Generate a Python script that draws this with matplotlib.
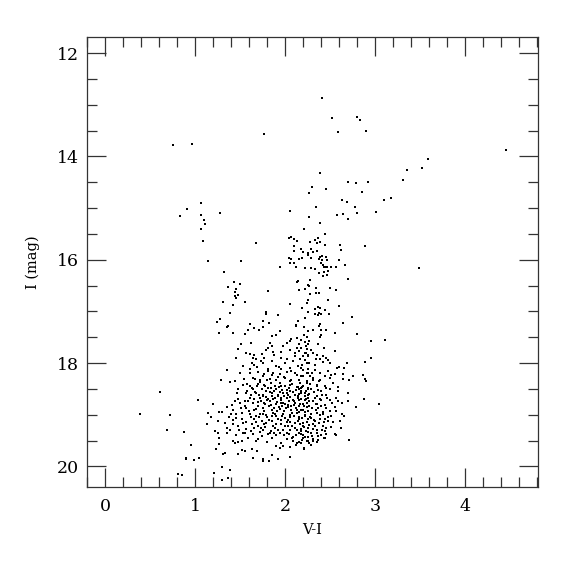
import matplotlib
matplotlib.use("Agg")
import matplotlib.pyplot as plt
from matplotlib.ticker import MultipleLocator

# (V-I, I) pairs, grouped by region
bright_stars = [
    (0.75, 13.78), (0.97, 13.77), (1.77, 13.56), (2.41, 12.88), (2.52, 13.26), (2.80, 13.24),
    (2.83, 13.30), (2.59, 13.53), (2.90, 13.51), (4.46, 13.87), (3.59, 14.05), (3.52, 14.23),
    (3.36, 14.26), (3.31, 14.45), (2.39, 14.33), (2.30, 14.59), (2.46, 14.63), (2.70, 14.49),
    (2.79, 14.51), (2.92, 14.49), (3.49, 16.16),
]
blue_loop = [
    (1.07, 14.90), (0.91, 15.02), (0.83, 15.16), (1.07, 15.13), (1.28, 15.09), (1.10, 15.23),
    (1.11, 15.30), (1.07, 15.40), (1.09, 15.63), (1.68, 15.68), (1.14, 16.03), (1.51, 16.03),
    (1.32, 16.23), (1.43, 16.43), (1.50, 16.48), (1.37, 16.53), (1.45, 16.56), (1.44, 16.62),
    (1.48, 16.68), (1.44, 16.71), (1.46, 16.74), (1.81, 16.61), (1.31, 16.82), (1.56, 16.82),
    (1.42, 16.88), (1.79, 17.02), (1.79, 17.05), (1.39, 17.04), (1.28, 17.15), (1.24, 17.20),
    (1.61, 17.24), (1.75, 17.18), (1.82, 17.22), (1.37, 17.29), (1.36, 17.31), (1.66, 17.33),
    (1.75, 17.31),
]
red_giants = [
    (2.27, 14.70), (2.86, 14.69), (2.63, 14.84), (2.69, 14.88), (3.10, 14.85), (3.18, 14.81),
    (2.34, 14.98), (2.78, 14.98), (2.06, 15.06), (2.64, 15.11), (2.58, 15.14), (2.80, 15.09),
    (3.01, 15.08), (2.27, 15.18), (2.70, 15.22), (2.39, 15.29), (2.21, 15.40), (2.44, 15.51),
    (2.04, 15.59), (2.07, 15.57), (2.10, 15.60), (2.13, 15.64), (2.28, 15.65), (2.33, 15.61),
    (2.35, 15.67), (2.37, 15.59), (2.36, 15.68), (2.39, 15.65), (2.10, 15.73), (2.44, 15.72),
    (2.61, 15.72), (2.89, 15.74), (2.18, 15.79), (2.29, 15.79), (2.62, 15.81), (2.10, 15.84),
    (2.20, 15.86), (2.25, 15.90), (2.26, 15.87), (2.31, 15.85), (2.35, 15.84), (2.39, 15.94),
    (2.41, 15.92), (2.46, 15.95), (2.04, 15.97), (2.07, 15.99), (2.16, 15.98), (2.19, 15.97),
    (2.29, 15.97), (2.38, 15.99), (2.41, 16.00), (2.47, 16.01), (2.60, 16.00), (2.06, 16.06),
    (2.10, 16.06), (2.40, 16.06), (2.42, 16.10), (2.43, 16.15), (2.45, 16.15), (2.47, 16.15),
    (2.51, 16.15), (2.57, 16.14), (2.67, 16.10), (1.94, 16.14), (2.12, 16.15), (2.22, 16.17),
    (2.29, 16.17), (2.33, 16.18), (2.48, 16.22), (2.43, 16.23), (2.38, 16.25), (2.47, 16.30),
    (2.42, 16.32), (2.70, 16.38), (2.28, 16.39), (2.14, 16.41), (2.13, 16.44), (2.26, 16.49),
    (2.27, 16.50), (2.34, 16.54), (2.50, 16.55), (2.15, 16.58), (2.22, 16.57), (2.57, 16.59),
    (2.34, 16.64), (2.38, 16.64), (2.28, 16.67), (2.26, 16.79), (2.48, 16.79), (2.06, 16.86),
    (2.24, 16.84), (2.60, 16.90), (2.19, 16.93), (2.33, 16.95), (2.37, 16.91), (2.39, 16.93),
    (2.44, 16.97), (2.26, 17.02), (2.33, 17.05), (2.37, 17.07), (2.38, 17.04), (2.40, 17.06),
    (2.49, 17.06), (1.92, 17.07), (2.22, 17.12), (2.14, 17.18), (2.74, 17.11), (2.39, 17.24),
    (2.38, 17.28), (2.12, 17.26), (2.12, 17.29), (2.21, 17.30), (2.64, 17.22), (2.07, 17.53),
]
faint_blue = [
    (0.61, 18.56), (0.39, 18.99), (0.72, 19.01), (0.69, 19.29), (0.88, 19.34), (1.03, 18.72),
    (0.96, 19.58), (0.90, 19.83), (0.90, 19.86), (0.99, 19.88), (1.04, 19.83), (0.81, 20.15),
    (0.86, 20.16),
]
clump_left = [
    (1.27, 17.42), (1.42, 17.42), (1.55, 17.44), (1.59, 17.37), (1.71, 17.37), (1.90, 17.46),
    (1.94, 17.39), (1.86, 17.48), (2.13, 17.51), (2.24, 17.49), (2.26, 17.38), (1.62, 17.62),
    (1.51, 17.64), (1.83, 17.62), (1.85, 17.68), (1.81, 17.71), (2.02, 17.61), (2.16, 17.64),
    (2.23, 17.68), (1.79, 17.75), (1.48, 17.73), (1.57, 17.80), (1.61, 17.82), (1.65, 17.84),
    (1.74, 17.82), (1.87, 17.79), (1.96, 17.79), (2.05, 17.74), (2.11, 17.80), (2.16, 17.77),
    (2.23, 17.80), (1.64, 17.90), (1.68, 17.93), (1.77, 17.90), (1.46, 17.90), (1.95, 17.90),
    (2.11, 17.87), (2.17, 17.93), (2.26, 17.87), (1.63, 18.00), (1.66, 18.03), (1.53, 18.06),
    (1.76, 18.00), (1.85, 17.97), (1.90, 18.05), (2.00, 18.00), (2.09, 17.97), (2.05, 18.09),
    (2.14, 18.06), (2.24, 18.00), (1.35, 18.13), (1.61, 18.11), (1.81, 18.11), (1.96, 18.11),
    (2.20, 18.13), (1.50, 18.19), (1.61, 18.20), (1.70, 18.18), (1.77, 18.22), (1.87, 18.19),
    (1.94, 18.22), (2.02, 18.18), (2.11, 18.19), (2.18, 18.25), (2.26, 18.19), (1.29, 18.32),
    (1.39, 18.37), (1.44, 18.35), (1.64, 18.29), (1.72, 18.32), (1.83, 18.31), (1.90, 18.32),
    (2.00, 18.29), (2.07, 18.32), (2.16, 18.32), (2.24, 18.35), (1.53, 18.42), (1.61, 18.45),
    (1.70, 18.40), (1.77, 18.42), (1.81, 18.48), (1.89, 18.44), (1.94, 18.38), (2.00, 18.45),
    (2.05, 18.42), (2.13, 18.46), (2.20, 18.44), (2.26, 18.48), (1.48, 18.51), (1.64, 18.51),
    (1.74, 18.50), (1.90, 18.51), (2.02, 18.53), (2.16, 18.51), (1.57, 18.59), (1.68, 18.58),
    (1.76, 18.61), (1.79, 18.54), (1.85, 18.59), (1.92, 18.61), (1.98, 18.58), (2.03, 18.61),
    (2.09, 18.56), (2.14, 18.63), (2.22, 18.59), (1.61, 18.67), (1.72, 18.67), (1.81, 18.69),
    (1.89, 18.67), (1.96, 18.71), (2.02, 18.67), (2.09, 18.71), (2.18, 18.69), (2.26, 18.67),
    (1.48, 18.69), (1.50, 18.77), (1.55, 18.74), (1.64, 18.78), (1.70, 18.76), (1.77, 18.78),
    (1.83, 18.74), (1.90, 18.80), (1.98, 18.77), (2.03, 18.82), (2.11, 18.78), (2.16, 18.83),
    (2.24, 18.77), (1.20, 18.80), (1.42, 18.90), (1.57, 18.87), (1.68, 18.89), (1.76, 18.87),
    (1.85, 18.90), (1.94, 18.89), (2.07, 18.90), (2.20, 18.90), (1.14, 18.96), (1.27, 18.95),
    (1.40, 18.99), (1.52, 18.96), (1.61, 18.99), (1.72, 18.98), (1.79, 19.01), (1.89, 18.98),
    (1.98, 18.99), (2.05, 19.04), (2.13, 18.96), (2.22, 19.01), (1.46, 19.06), (1.66, 19.08),
    (1.92, 19.08), (2.16, 19.08), (1.13, 19.19), (1.33, 19.16), (1.42, 19.19), (1.53, 19.16),
    (1.63, 19.19), (1.70, 19.22), (1.79, 19.16), (1.87, 19.22), (1.96, 19.19), (2.03, 19.22),
    (2.11, 19.16), (2.20, 19.21), (1.39, 19.29), (1.57, 19.27), (1.76, 19.29), (1.98, 19.29),
    (2.13, 19.29), (1.22, 19.32), (1.26, 19.36), (1.35, 19.35), (1.46, 19.40), (1.53, 19.36),
    (1.64, 19.38), (1.74, 19.41), (1.83, 19.35), (1.90, 19.40), (2.02, 19.36), (2.09, 19.43),
    (2.18, 19.38), (2.26, 19.43), (1.27, 19.45), (1.59, 19.45),
]
clump_right = [
    (2.21, 17.46), (2.31, 17.37), (2.40, 17.37), (2.45, 17.37), (2.40, 17.45), (2.39, 17.49),
    (2.55, 17.42), (2.80, 17.43), (2.96, 17.58), (3.11, 17.55), (2.18, 17.55), (2.22, 17.60),
    (2.27, 17.58), (2.26, 17.64), (2.37, 17.64), (2.43, 17.71), (2.18, 17.71), (2.24, 17.73),
    (2.29, 17.75), (2.22, 17.80), (2.31, 17.80), (2.20, 17.86), (2.26, 17.84), (2.35, 17.84),
    (2.42, 17.86), (2.45, 17.90), (2.55, 17.77), (2.39, 17.93), (2.27, 18.00), (2.22, 17.95),
    (2.33, 18.03), (2.42, 17.98), (2.50, 18.00), (2.69, 18.00), (2.89, 17.98), (2.96, 17.90),
    (2.58, 18.09), (2.60, 18.08), (2.18, 18.09), (2.26, 18.11), (2.33, 18.13), (2.39, 18.19),
    (2.48, 18.16), (2.55, 18.22), (2.64, 18.22), (2.87, 18.24), (2.89, 18.31), (2.90, 18.35),
    (2.71, 18.32), (2.64, 18.31), (2.44, 18.26), (2.24, 18.19), (2.20, 18.26), (2.31, 18.29),
    (2.39, 18.32), (2.50, 18.29), (2.53, 18.38), (2.59, 18.46), (2.24, 18.38), (2.35, 18.42),
    (2.44, 18.45), (2.18, 18.48), (2.29, 18.51), (2.40, 18.54), (2.50, 18.51), (2.57, 18.67),
    (2.59, 18.74), (2.63, 18.77), (2.70, 18.74), (2.88, 18.69), (2.79, 18.85), (3.04, 18.80),
    (2.18, 18.58), (2.26, 18.61), (2.35, 18.64), (2.46, 18.61), (2.22, 18.71), (2.31, 18.74),
    (2.40, 18.72), (2.50, 18.71), (2.20, 18.80), (2.27, 18.83), (2.37, 18.87), (2.44, 18.82),
    (2.57, 18.93), (2.63, 18.99), (2.18, 18.90), (2.26, 18.93), (2.35, 18.96), (2.42, 18.99),
    (2.51, 19.03), (2.22, 19.03), (2.29, 19.06), (2.39, 19.09), (2.48, 19.12), (2.61, 19.12),
    (2.20, 19.16), (2.31, 19.19), (2.42, 19.22), (2.51, 19.23), (2.26, 19.25), (2.35, 19.29),
    (2.44, 19.32), (2.18, 19.32), (2.29, 19.36), (2.57, 19.39), (2.37, 19.41), (2.44, 19.45),
    (2.22, 19.43), (2.31, 19.47),
]
clump_core = [
    (1.72, 18.36), (1.78, 18.44), (1.84, 18.39), (1.88, 18.55), (1.93, 18.47), (1.97, 18.52),
    (2.04, 18.49), (2.08, 18.40), (2.12, 18.53), (2.19, 18.46), (2.23, 18.55), (2.28, 18.41),
    (2.32, 18.57), (1.75, 18.64), (1.80, 18.72), (1.86, 18.63), (1.91, 18.75), (1.95, 18.68),
    (2.00, 18.79), (2.05, 18.66), (2.10, 18.74), (2.14, 18.68), (2.17, 18.79), (2.22, 18.64),
    (2.27, 18.73), (2.33, 18.68), (1.70, 18.83), (1.77, 18.93), (1.82, 18.84), (1.87, 18.96),
    (1.93, 18.85), (1.99, 18.93), (2.03, 18.86), (2.08, 18.97), (2.12, 18.88), (2.15, 18.95),
    (2.24, 18.86), (2.29, 18.98), (2.34, 18.91), (1.68, 19.02), (1.74, 19.12), (1.80, 19.05),
    (1.85, 19.13), (1.90, 19.02), (1.95, 19.11), (2.00, 19.06), (2.06, 19.14), (2.10, 19.03),
    (2.14, 19.12), (2.19, 19.07), (2.24, 19.15), (2.28, 19.04), (2.33, 19.13), (1.66, 19.25),
    (1.72, 19.33), (1.78, 19.24), (1.84, 19.31), (1.89, 19.26), (1.94, 19.35), (2.00, 19.22),
    (2.05, 19.30), (2.11, 19.26), (2.16, 19.35), (2.21, 19.24), (2.26, 19.33), (2.31, 19.28),
    (2.36, 19.36), (1.58, 18.55), (1.62, 18.62), (1.55, 18.84), (1.60, 18.93), (1.52, 19.08),
    (1.57, 19.14), (1.48, 19.22), (1.45, 18.98), (1.42, 19.10), (1.38, 19.04), (1.35, 19.26),
    (1.62, 19.31), (1.70, 19.48), (1.80, 19.52), (1.86, 19.46), (1.96, 19.55), (2.08, 19.45),
    (2.12, 19.58), (2.19, 19.49), (2.29, 19.58), (2.35, 19.52), (2.40, 19.40), (2.45, 19.26),
    (2.48, 19.05), (2.46, 18.88), (2.52, 18.78), (2.41, 18.62), (2.45, 18.48), (2.38, 18.35),
    (2.28, 18.25), (2.13, 18.24), (1.99, 18.27), (1.86, 18.23), (1.75, 18.25), (1.81, 18.15),
    (1.93, 18.08), (2.07, 18.15), (2.19, 18.03), (2.30, 18.19), (1.69, 18.08), (1.73, 17.96),
    (1.88, 17.85), (2.02, 17.92), (2.13, 17.70), (2.06, 17.58), (1.98, 17.68), (2.34, 17.93),
    (2.48, 17.95), (2.51, 18.24), (2.59, 18.55), (2.55, 18.86), (2.62, 19.25), (2.66, 19.02),
    (2.70, 18.58), (2.75, 18.25), (2.65, 18.10), (1.92, 18.64), (2.02, 18.58), (2.15, 18.60),
    (1.84, 18.81), (1.97, 18.83), (2.10, 18.81), (2.22, 18.95), (1.90, 19.18), (2.02, 19.15),
    (2.17, 19.18), (1.76, 18.99), (2.06, 19.00), (2.25, 18.50), (2.36, 18.79), (2.39, 19.01),
    (2.43, 19.15), (1.66, 18.70), (1.69, 18.44), (1.54, 18.30), (1.47, 18.58), (1.44, 18.73),
    (1.36, 18.86), (1.30, 18.95), (1.25, 19.13), (1.18, 19.05),
]
clump_dense = [
    (1.63, 18.48), (1.67, 18.57), (1.71, 18.62), (1.73, 18.73), (1.78, 18.80), (1.79, 18.66),
    (1.83, 18.57), (1.87, 18.70), (1.88, 18.88), (1.91, 18.93), (1.94, 18.57), (1.96, 18.78),
    (1.99, 18.64), (2.01, 18.87), (2.04, 18.73), (2.06, 18.55), (2.07, 18.83), (2.11, 18.62),
    (2.13, 18.91), (2.16, 18.72), (2.18, 18.55), (2.21, 18.83), (2.23, 18.70), (2.25, 19.08),
    (2.27, 18.60), (2.30, 18.88), (2.32, 19.10), (2.34, 18.80), (2.37, 18.52), (2.39, 18.70),
    (2.42, 18.95), (2.44, 19.09), (1.65, 18.91), (1.68, 19.15), (1.71, 19.05), (1.73, 19.26),
    (1.77, 19.18), (1.81, 19.38), (1.82, 19.10), (1.86, 19.02), (1.88, 19.36), (1.92, 19.29),
    (1.97, 19.02), (1.99, 19.40), (2.03, 19.10), (2.04, 19.38), (2.08, 19.21), (2.12, 19.40),
    (2.15, 19.05), (2.18, 19.28), (2.20, 19.40), (2.23, 19.31), (2.27, 19.20), (2.30, 19.42),
    (2.33, 19.22), (2.38, 19.16), (2.41, 19.30), (2.46, 19.38), (1.59, 18.73), (1.62, 19.05),
    (1.56, 19.35), (1.51, 18.88), (1.49, 19.30), (1.41, 18.82), (1.58, 18.40), (1.67, 18.30),
    (1.80, 18.33), (1.92, 18.27), (2.05, 18.35), (2.17, 18.39), (2.31, 18.33), (2.36, 18.45),
    (1.96, 18.45), (1.84, 18.48), (2.14, 18.46), (2.47, 18.68), (2.50, 18.93), (2.53, 19.15),
    (2.40, 18.84),
]
clump_faint = [
    (1.42, 19.51), (1.44, 19.54), (1.48, 19.53), (1.52, 19.51), (1.68, 19.51), (2.02, 19.48),
    (2.09, 19.51), (2.13, 19.54), (2.16, 19.53), (2.24, 19.51), (2.27, 19.54), (1.90, 19.61),
    (1.94, 19.64), (1.98, 19.61), (2.05, 19.62), (1.27, 19.57), (1.23, 19.67), (1.31, 19.77),
    (1.33, 19.75), (1.48, 19.77), (1.52, 19.68), (1.56, 19.70), (1.63, 19.67), (1.64, 19.83),
    (1.69, 19.70), (1.75, 19.85), (1.76, 19.90), (1.82, 19.90), (1.86, 19.79), (1.92, 19.86),
    (2.06, 19.82), (1.21, 20.13), (1.30, 20.01), (1.39, 20.07), (1.30, 20.26), (1.37, 20.23),
    (2.43, 19.45), (2.37, 19.49), (2.31, 19.51), (2.26, 19.51), (2.18, 19.54), (2.20, 19.45),
    (2.21, 19.64), (2.21, 19.67), (2.56, 19.38), (2.71, 19.49),
]

groups = [bright_stars, blue_loop, red_giants, faint_blue, clump_left, clump_right,
          clump_core, clump_dense, clump_faint]
vi = [p[0] for g in groups for p in g]
imag = [p[1] for g in groups for p in g]

x_ticks = [0, 1, 2, 3, 4]
y_ticks = [12, 14, 16, 18, 20]

plt.rcParams['font.family'] = ['DejaVu Serif']

fig = plt.figure(figsize=(5.75, 5.75), dpi=100)
ax = fig.add_axes([87/575, 1 - 487/575, (538 - 87)/575, (487 - 37)/575])

ax.plot(vi, imag, linestyle='none', marker='s', markersize=1.7, color='black',
        markeredgewidth=0)

ax.set_xlim(-0.2, 4.81)
ax.set_ylim(20.4, 11.69)

ax.set_xticks(x_ticks)
ax.set_yticks(y_ticks)
ax.xaxis.set_minor_locator(MultipleLocator(0.2))
ax.yaxis.set_minor_locator(MultipleLocator(0.5))

edge = '#333333'
for s in ax.spines.values():
    s.set_linewidth(0.9)
    s.set_color(edge)
ax.tick_params(which='both', direction='in', top=True, right=True, color=edge, width=0.9)
ax.tick_params(which='major', length=13.5, labelsize=12.5, pad=8)
ax.tick_params(which='minor', length=7)
ax.tick_params(axis='y', which='major', pad=6)

ax.set_xlabel('V-I', fontsize=10.5, labelpad=6)
ax.set_ylabel('I (mag)', fontsize=10.5, labelpad=12)

fig.savefig('out.png', dpi=100)
